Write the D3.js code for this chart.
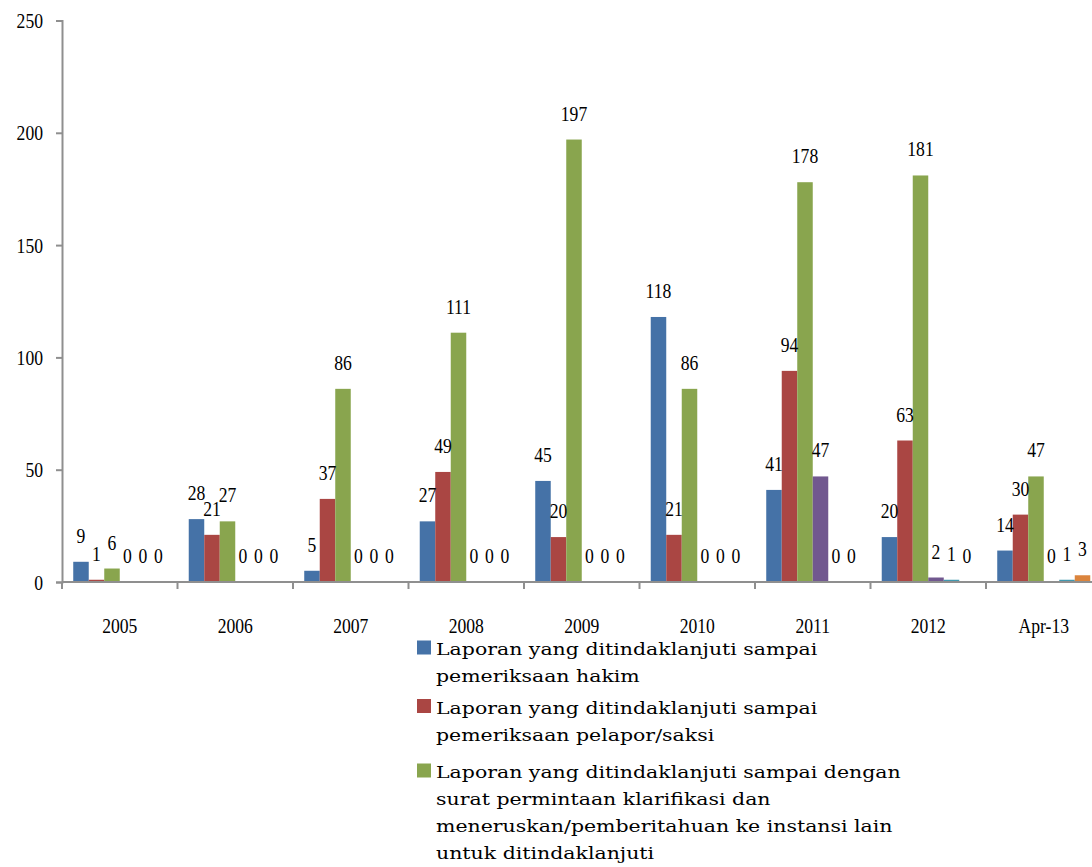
<!DOCTYPE html>
<html>
<head>
<meta charset="utf-8">
<script src="https://cdn.jsdelivr.net/npm/d3@7/dist/d3.min.js"></script>
<style>
  html, body { margin: 0; padding: 0; background: #fff; }
  svg { display: block; }
</style>
</head>
<body>
<svg id="chart" width="1092" height="867"></svg>
<script>
// Report follow-up counts per year
const categories = ["2005", "2006", "2007", "2008", "2009", "2010", "2011", "2012", "Apr-13"];
const hakim      = [9, 28, 5, 27, 45, 118, 41, 20, 14];
const pelapor    = [1, 21, 37, 49, 20, 21, 94, 63, 30];
const klarifikasi= [6, 27, 86, 111, 197, 86, 178, 181, 47];
const series4    = [0, 0, 0, 0, 0, 0, 47, 2, 0];
const series5    = [0, 0, 0, 0, 0, 0, 0, 1, 1];
const series6    = [0, 0, 0, 0, 0, 0, 0, 0, 3];
const yTicks     = [0, 50, 100, 150, 200, 250];

const seriesValues = [hakim, pelapor, klarifikasi, series4, series5, series6];
const seriesColors = ["#4572A7", "#AA4643", "#89A54E", "#71588F", "#4198AF", "#DB843D"];
const legendLines = [
  ["Laporan yang ditindaklanjuti sampai", "pemeriksaan hakim"],
  ["Laporan yang ditindaklanjuti sampai", "pemeriksaan pelapor/saksi"],
  ["Laporan yang ditindaklanjuti sampai dengan", "surat permintaan klarifikasi dan",
   "meneruskan/pemberitahuan ke instansi lain", "untuk ditindaklanjuti"]
];

const svg = d3.select("#chart");
const numFont = "'Liberation Serif', 'Times New Roman', serif";
const squeeze = 0.84;
const axisColor = "#8f8f8f";

const x = d3.scaleBand().domain(categories).range([62, 1101.5]).paddingInner(0).paddingOuter(0);
const xs = d3.scaleBand().domain(d3.range(seriesValues.length))
  .range([0, x.bandwidth()]).paddingInner(0).paddingOuter(0.725);
const y = d3.scaleLinear().domain([0, 250]).range([582, 20.5]);

// bars
const groups = svg.append("g").selectAll("g")
  .data(categories)
  .join("g")
  .attr("transform", c => `translate(${x(c)},0)`);

groups.each(function(c, ci) {
  const g = d3.select(this);
  seriesValues.forEach((vals, si) => {
    const v = vals[ci];
    if (v > 0) {
      g.append("rect")
        .attr("x", xs(si))
        .attr("y", y(v))
        .attr("width", xs.bandwidth())
        .attr("height", y(0) - y(v))
        .attr("fill", seriesColors[si]);
    }
  });
});

// y axis
const yAxis = svg.append("g")
  .attr("transform", "translate(62,0)")
  .call(d3.axisLeft(y).tickValues(yTicks).tickSize(6).tickPadding(13).tickFormat(d3.format("d")));
yAxis.select(".domain").attr("stroke", axisColor).attr("stroke-width", 2);
yAxis.selectAll(".tick line").attr("stroke", axisColor).attr("stroke-width", 2);
yAxis.selectAll(".tick text")
  .attr("font-family", numFont).attr("font-size", 21).attr("fill", "#000")
  .attr("dy", "0.34em")
  .each(function() {
    const t = d3.select(this);
    const xx = +t.attr("x");
    t.attr("transform", `translate(${xx},0) scale(${squeeze},1)`).attr("x", 0);
  });

// x axis baseline with boundary ticks
const xAxisG = svg.append("g");
xAxisG.append("line")
  .attr("x1", 62).attr("x2", 1101.5).attr("y1", y(0)).attr("y2", y(0))
  .attr("stroke", axisColor).attr("stroke-width", 2);
const boundaries = categories.map(c => x(c)).concat([x(categories[categories.length - 1]) + x.bandwidth()]);
xAxisG.selectAll("line.tk").data(boundaries).join("line")
  .attr("class", "tk")
  .attr("x1", d => d).attr("x2", d => d)
  .attr("y1", y(0)).attr("y2", y(0) + 7)
  .attr("stroke", axisColor).attr("stroke-width", 2);
xAxisG.selectAll("text").data(categories).join("text")
  .attr("transform", c => `translate(${x(c) + x.bandwidth() / 2},633) scale(${squeeze},1)`)
  .attr("text-anchor", "middle")
  .attr("font-family", numFont).attr("font-size", 21)
  .text(c => c);

// data labels
const labels = svg.append("g");
categories.forEach((c, ci) => {
  seriesValues.forEach((vals, si) => {
    const v = vals[ci];
    labels.append("text")
      .attr("transform", `translate(${x(c) + xs(si) + xs.bandwidth() / 2},${y(v) - 19}) scale(${squeeze},1)`)
      .attr("text-anchor", "middle")
      .attr("font-family", numFont).attr("font-size", 21)
      .attr("fill", "#000")
      .text(v);
  });
});

// legend
const legendStarts = [655, 713.5, 778];
const legend = svg.append("g");
legendLines.forEach((lines, i) => {
  legend.append("rect")
    .attr("x", 417).attr("y", legendStarts[i] - 14.5)
    .attr("width", 14).attr("height", 14)
    .attr("fill", seriesColors[i]);
  lines.forEach((ln, j) => {
    legend.append("text")
      .attr("transform", `translate(436,${legendStarts[i] + j * 27}) scale(1.17,1)`)
      .attr("font-family", "'DejaVu Serif', serif")
      .attr("font-size", 17.5)
      .attr("fill", "#000")
      .text(ln);
  });
});
</script>
</body>
</html>
